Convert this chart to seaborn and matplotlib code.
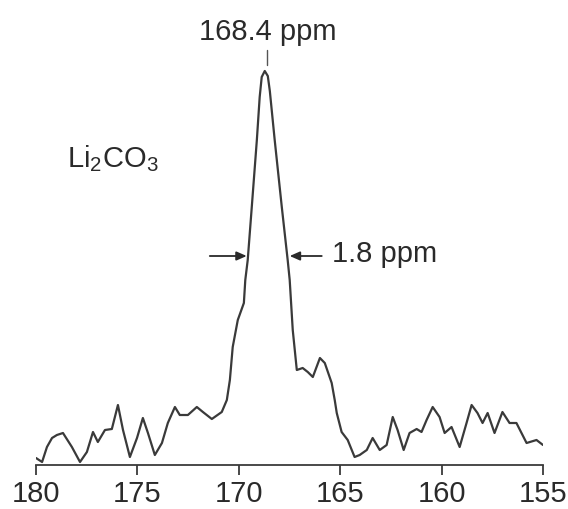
import matplotlib
matplotlib.use("Agg")
import matplotlib.pyplot as plt
import seaborn as sns
import pandas as pd

# ---- data ----
shift_ppm = [180.0, 179.70, 179.46, 179.21, 178.97, 178.67, 178.23, 177.83, 177.49, 177.19,
             176.95, 176.6, 176.26, 175.96, 175.71, 175.37, 175.02, 174.73, 174.48, 174.14,
             173.79, 173.5, 173.15, 172.91, 172.51, 172.07, 171.77, 171.33, 170.84, 170.59,
             170.44, 170.3, 170.05, 169.75, 169.68, 169.56, 169.36, 169.11, 168.97, 168.87,
             168.72, 168.57, 168.47, 168.23, 167.88, 167.59, 167.49, 167.34, 167.14, 166.85,
             166.6, 166.35, 166.0, 165.76, 165.42, 165.27, 165.17, 164.93, 164.63, 164.29,
             164.04, 163.69, 163.4, 163.05, 162.71, 162.41, 162.17, 161.87, 161.58, 161.23,
             160.99, 160.74, 160.44, 160.1, 159.85, 159.51, 159.11, 158.77, 158.52, 158.23,
             157.98, 157.73, 157.39, 157.0, 156.65, 156.31, 155.81, 155.32, 155.0]
intensity = [7, 3, 18, 27, 30, 32, 18, 3, 13, 33,
             23, 35, 36, 60, 35, 8, 27, 47, 32, 10,
             22, 42, 58, 50, 50, 58, 53, 46, 53, 65,
             85, 118, 145, 162, 185, 205, 258, 325, 368, 388,
             394, 389, 374, 325, 258, 205, 185, 135, 95, 97,
             93, 88, 107, 102, 82, 65, 52, 33, 25, 8,
             10, 15, 27, 15, 20, 48, 35, 15, 32, 36,
             33, 45, 58, 48, 32, 38, 18, 42, 60, 52,
             42, 52, 32, 53, 42, 42, 22, 25, 20]
x_ticks = [180, 175, 170, 165, 160, 155]
peak_label = "168.4 ppm"
width_label = "1.8 ppm"
compound_label = r"Li$_\mathregular{2}$CO$_\mathregular{3}$"

df = pd.DataFrame({"ppm": shift_ppm, "I": intensity})

sns.set_theme(style="white")
plt.rcParams["font.family"] = ["Liberation Sans", "DejaVu Sans"]
plt.rcParams["mathtext.fontset"] = "custom"
plt.rcParams["mathtext.rm"] = "Liberation Sans"
plt.rcParams["mathtext.it"] = "Liberation Sans:italic"

ink = "#2a2a2a"
fig = plt.figure(figsize=(5.68, 5.09), dpi=100)
ax = fig.add_axes([36 / 568, 44 / 509, (543 - 36) / 568, (465 - 20) / 509])

sns.lineplot(data=df, x="ppm", y="I", sort=False, estimator=None,
             color="#3a3a3a", linewidth=1.6, ax=ax)
for ln in ax.lines:
    ln.set_solid_joinstyle("round")

ax.set_xlim(180, 155)
ax.set_ylim(0, 445)
ax.set_xticks(x_ticks)
ax.set_xticklabels([str(t) for t in x_ticks])
ax.set_yticks([])
ax.set_xlabel("")
ax.set_ylabel("")
for s in ["left", "right", "top"]:
    ax.spines[s].set_visible(False)
ax.spines["bottom"].set_color("#3a3a3a")
ax.spines["bottom"].set_linewidth(1.3)
ax.tick_params(axis="x", direction="out", length=7, width=1.3, colors="#3a3a3a",
               labelsize=21, labelcolor=ink, pad=4, bottom=True)

# peak label + marker line
ax.text(168.57, 433, peak_label, ha="center", va="center", fontsize=21, color=ink)
ax.plot([168.62, 168.62], [400, 415], color="#555555", linewidth=1.0)

# compound label
ax.text(178.47, 298, compound_label, ha="left", va="baseline", fontsize=21, color=ink)

# FWHM arrows
arrow_kw = dict(arrowstyle="-|>,head_length=0.5,head_width=0.22", color=ink, lw=1.3,
                shrinkA=0, shrinkB=0)
ax.annotate("", xy=(169.61, 209), xytext=(171.43, 209), arrowprops=arrow_kw)
ax.annotate("", xy=(167.49, 209), xytext=(165.91, 209), arrowprops=arrow_kw)
ax.text(165.42, 211, width_label, ha="left", va="center", fontsize=21, color=ink)

fig.savefig("out.png", dpi=100)
